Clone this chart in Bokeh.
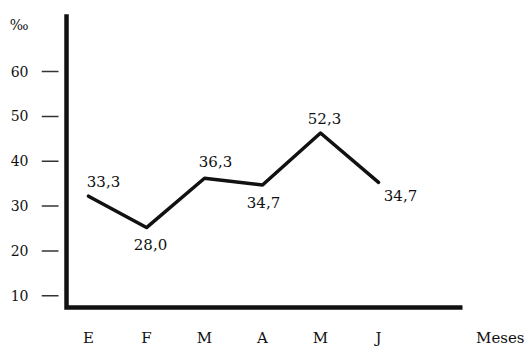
from bokeh.plotting import figure
from bokeh.models import Range1d, FixedTicker, ColumnDataSource
from bokeh.core.properties import value
from bokeh.embed import file_html
from bokeh.resources import INLINE

# ---- data ----
months = ["E", "F", "M", "A", "M", "J"]
month_pos = [1, 2, 3, 4, 5, 6]
plotted = [32.2, 25.2, 36.2, 34.7, 46.3, 35.3]      # drawn heights of the line
value_labels = ["33,3", "28,0", "36,3", "34,7", "52,3", "34,7"]
y_ticks = [10, 20, 30, 40, 50, 60]
x_title = "Meses"
y_unit = "‰"

# ---- layout helpers (positions/styles only) ----
label_dx = [15, 4, 11, 1, 4, 22]
label_dy = [-15, 17, -17, 18, -14, 13]
meses_pos = 8.1
unit_pos = 70.35
FONT = "DejaVu Serif"
INK = "#111111"

XMIN, XMAX = 0.1897, 8.586
p = figure(width=528, height=349, output_backend="svg", toolbar_location=None,
           x_range=Range1d(XMIN, XMAX), y_range=Range1d(6.70, 75.86),
           min_border_left=41, min_border_right=0, min_border_top=0,
           min_border_bottom=35)
p.outline_line_color = None
p.grid.grid_line_color = None
p.background_fill_color = "white"
p.border_fill_color = "white"

# x axis: labels only
p.xaxis.ticker = FixedTicker(ticks=month_pos + [meses_pos])
ov = {pos: m for pos, m in zip(month_pos, months)}
ov[meses_pos] = x_title
p.xaxis.major_label_overrides = ov
p.xaxis.axis_line_color = None
p.xaxis.major_tick_line_color = None
p.xaxis.minor_tick_line_color = None
p.xaxis.major_tick_out = 0
p.xaxis.major_tick_in = 0
p.xaxis.major_label_standoff = 18
p.xaxis.major_label_text_font = FONT
p.xaxis.major_label_text_font_size = "15px"
p.xaxis.major_label_text_color = INK

# y axis: labels only (tick dashes drawn separately, detached from the axis line)
p.yaxis.ticker = FixedTicker(ticks=y_ticks + [unit_pos])
yov = {t: str(t) for t in y_ticks}
yov[unit_pos] = y_unit
p.yaxis.major_label_overrides = yov
p.yaxis.axis_line_color = None
p.yaxis.minor_tick_line_color = None
p.yaxis.major_tick_line_color = None
p.yaxis.major_tick_out = 0
p.yaxis.major_tick_in = 0
p.yaxis.major_label_standoff = 13
p.yaxis.major_label_text_font = FONT
p.yaxis.major_label_text_font_size = "14px"
p.yaxis.major_label_text_color = INK

# tick dashes
p.segment(x0=[XMIN] * len(y_ticks), x1=[0.483] * len(y_ticks), y0=y_ticks, y1=y_ticks,
          line_width=1.5, line_color="#333333")

# thick drawn axes
x0, x1 = 0.621, 7.448
ybot, ytop = 7.36, 72.78
p.line(x=[x0, x0, x1], y=[ytop, ybot, ybot], line_width=4.5, line_color=INK,
       line_join="miter")

# data line
p.line(x=month_pos, y=plotted, line_width=3.5, line_color=INK, line_join="round",
       line_cap="round")

src = ColumnDataSource(dict(x=month_pos, y=plotted, t=value_labels,
                            dx=label_dx, dy=label_dy))
p.text(x="x", y="y", text="t", x_offset="dx", y_offset="dy", source=src,
       text_font=value(FONT), text_font_size="15px", text_color=INK,
       text_align="center", text_baseline="middle")

open("out.html", "w").write(file_html(p, INLINE))
